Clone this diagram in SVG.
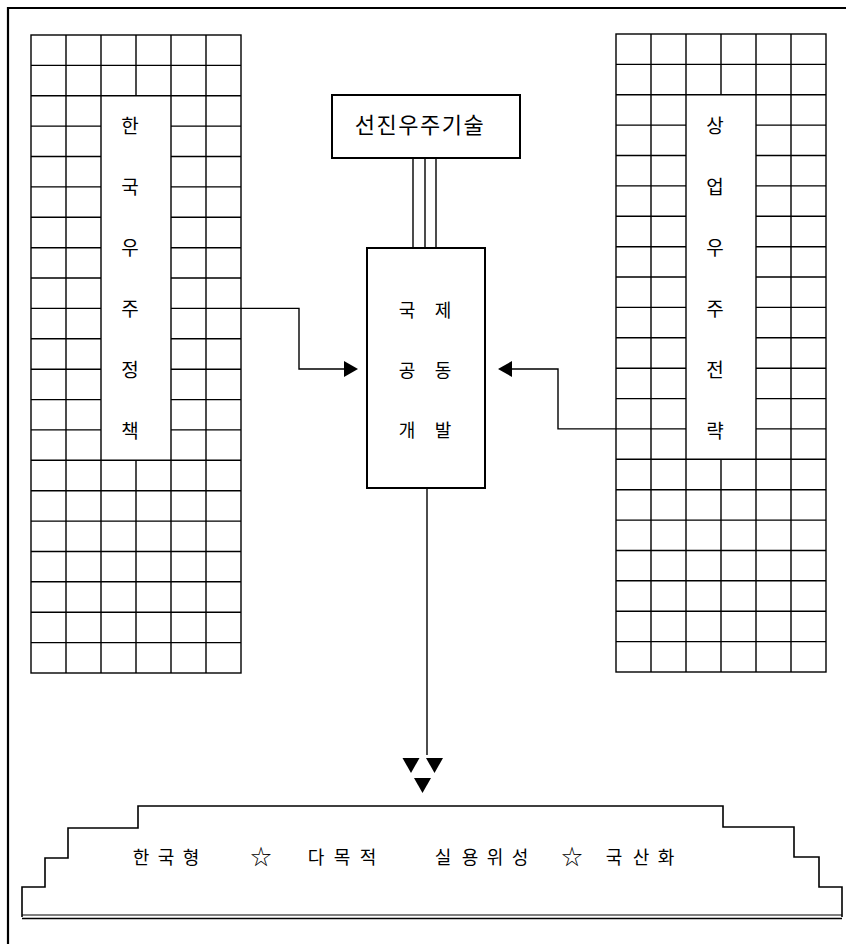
<svg xmlns="http://www.w3.org/2000/svg" xmlns:xlink="http://www.w3.org/1999/xlink" width="846" height="944" viewBox="0 0 846 944">
<style>
.ln{fill:none;stroke:#000;stroke-width:1.4}
.bx{fill:#fff;stroke:#000;stroke-width:2}
.tx{font-family:"Noto Sans CJK KR","Noto Sans",sans-serif;fill:#000;text-anchor:middle}
.g{font-size:19px}
.c{font-size:18px}
.st{font-size:21px}
</style>
<defs>
<marker id="ah" viewBox="0 0 14 16" refX="0" refY="8" markerWidth="14" markerHeight="16" markerUnits="userSpaceOnUse" orient="auto">
<path d="M0,0 L14,8 L0,16 Z" fill="#000"/>
</marker>
<path id="tri" d="M-8.5,0 L8.5,0 L0,15 Z" fill="#000"/>
</defs>
<rect width="846" height="944" fill="#fff"/>
<g id="frame">
<path d="M8,944 V8 H846" fill="none" stroke="#000" stroke-width="2.2"/>
</g>
<g id="grid-left">
<rect x="31" y="35" width="210" height="638" class="ln"/>
<path class="ln" d="M66,35V673 M206,35V673 M101,35V673 M171,35V673 M136,35V95.8 M136,460.3V673
M31,65.4H241 M31,95.8H241
M31,126.1H101 M171,126.1H241 M31,156.5H101 M171,156.5H241 M31,186.9H101 M171,186.9H241
M31,217.3H101 M171,217.3H241 M31,247.7H101 M171,247.7H241 M31,278H101 M171,278H241
M31,308.4H101 M171,308.4H241 M31,338.8H101 M171,338.8H241 M31,369.2H101 M171,369.2H241
M31,399.6H101 M171,399.6H241 M31,429.9H101 M171,429.9H241
M31,460.3H241 M31,490.7H241 M31,521.1H241 M31,551.5H241 M31,581.8H241 M31,612.2H241 M31,642.6H241"/>
<text class="tx g" x="130" y="133">한</text>
<text class="tx g" x="130" y="194">국</text>
<text class="tx g" x="130" y="255">우</text>
<text class="tx g" x="130" y="316">주</text>
<text class="tx g" x="130" y="377">정</text>
<text class="tx g" x="130" y="438">책</text>
</g>
<g id="grid-right">
<rect x="616" y="34" width="210" height="638" class="ln"/>
<path class="ln" d="M651,34V672 M791,34V672 M686,34V672 M756,34V672 M721,34V94.8 M721,459.3V672
M616,64.4H826 M616,94.8H826
M616,125.1H686 M756,125.1H826 M616,155.5H686 M756,155.5H826 M616,185.9H686 M756,185.9H826
M616,216.3H686 M756,216.3H826 M616,246.7H686 M756,246.7H826 M616,277H686 M756,277H826
M616,307.4H686 M756,307.4H826 M616,337.8H686 M756,337.8H826 M616,368.2H686 M756,368.2H826
M616,398.6H686 M756,398.6H826 M616,428.9H686 M756,428.9H826
M616,459.3H826 M616,489.7H826 M616,520.1H826 M616,550.5H826 M616,580.8H826 M616,611.2H826 M616,641.6H826"/>
<text class="tx g" x="715" y="133">상</text>
<text class="tx g" x="715" y="194">업</text>
<text class="tx g" x="715" y="255">우</text>
<text class="tx g" x="715" y="316">주</text>
<text class="tx g" x="715" y="377">전</text>
<text class="tx g" x="715" y="438">략</text>
</g>
<g id="connectors">
<path class="ln" d="M413,158V248 M425,158V248 M436,158V248"/>
<path class="ln" d="M241,308.4H299V369H344" marker-end="url(#ah)"/>
<path class="ln" d="M616,428.9H558V369H512" marker-end="url(#ah)"/>
<path class="ln" d="M427,488V755" stroke-width="2"/>
<use xlink:href="#tri" x="411" y="758"/>
<use xlink:href="#tri" x="434.5" y="758"/>
<use xlink:href="#tri" x="422.5" y="778"/>
</g>
<g id="node-tech">
<rect x="332" y="95" width="188" height="63" class="bx"/>
<text class="tx" x="420" y="133" font-size="22" letter-spacing="1.5">선진우주기술</text>
</g>
<g id="node-center">
<rect x="367" y="248" width="118" height="240" class="bx"/>
<text class="tx c" x="407" y="316.5">국</text>
<text class="tx c" x="443" y="316.5">제</text>
<text class="tx c" x="407" y="376.5">공</text>
<text class="tx c" x="443" y="376.5">동</text>
<text class="tx c" x="407" y="436.5">개</text>
<text class="tx c" x="443" y="436.5">발</text>
</g>
<g id="node-result">
<path d="M22,917V887H45V858H68V828H138V806H723V827H794V857H819V887H842V917" fill="none" stroke="#000" stroke-width="1.6"/>
<path d="M22,915H842" fill="none" stroke="#000" stroke-width="1"/>
<path d="M22,918.5H842" fill="none" stroke="#000" stroke-width="1.6"/>
<text class="tx" font-size="18" y="864" x="141 166 191 226 261 289 316 342 368 405 443 470 495 520 546 572 593 614 641 666">한국형 <tspan class="st">☆</tspan> 다목적 실용위성 <tspan class="st">☆</tspan> 국산화</text>
</g>
</svg>
